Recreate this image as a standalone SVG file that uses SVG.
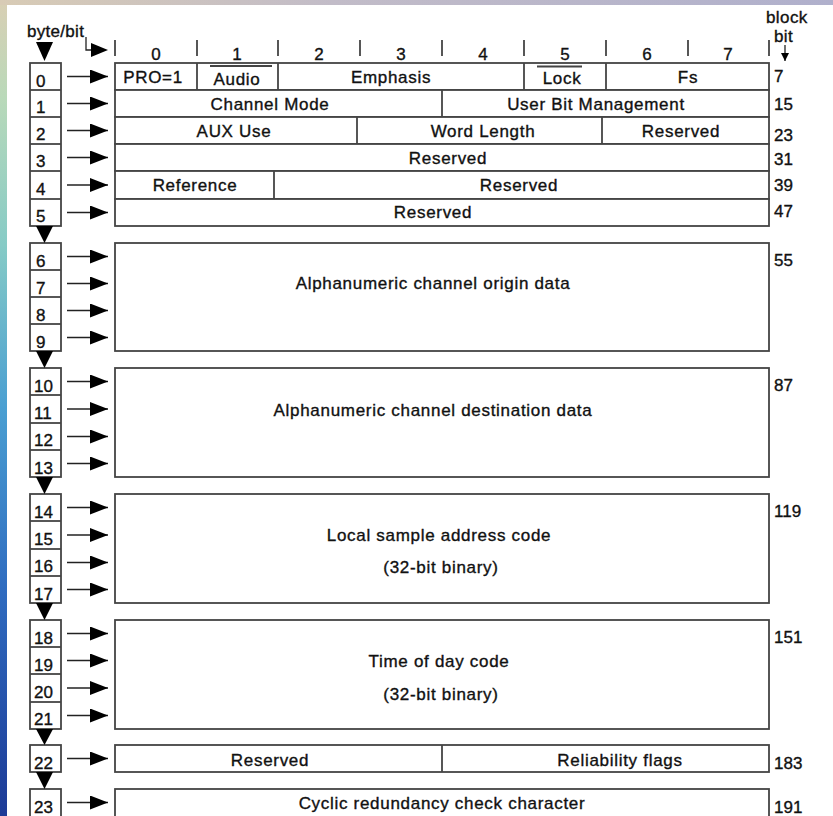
<svg xmlns="http://www.w3.org/2000/svg" width="833" height="816" viewBox="0 0 833 816">
<defs>
<linearGradient id="leftg" x1="0" y1="0" x2="0" y2="1">
<stop offset="0" stop-color="#d9cfb4"/>
<stop offset="0.12" stop-color="#b9d9b9"/>
<stop offset="0.3" stop-color="#86cbc6"/>
<stop offset="0.5" stop-color="#4a9fd2"/>
<stop offset="0.72" stop-color="#2f6cc0"/>
<stop offset="1" stop-color="#1d3a96"/>
</linearGradient>
<linearGradient id="topg" x1="0" y1="0" x2="1" y2="0">
<stop offset="0" stop-color="#d8cbb5"/>
<stop offset="0.4" stop-color="#c2bcc8"/>
<stop offset="1" stop-color="#b0b0cc"/>
</linearGradient>
<marker id="ah" viewBox="0 0 18 14" refX="18" refY="7" markerWidth="18" markerHeight="14" markerUnits="userSpaceOnUse" orient="auto">
<path d="M0,0 L18,7 L0,14 Z" fill="#000"/>
</marker>
<marker id="ahs" viewBox="0 0 8 8" refX="8" refY="4" markerWidth="8" markerHeight="8" markerUnits="userSpaceOnUse" orient="auto">
<path d="M0,0 L8,4 L0,8 Z" fill="#000"/>
</marker>
</defs>
<style>
.t{font-family:"Liberation Sans",Arial,sans-serif;font-size:17px;fill:#111;stroke:#111;stroke-width:0.35px;letter-spacing:0.7px;text-anchor:middle}
.n{font-family:"Liberation Sans",Arial,sans-serif;font-size:17px;fill:#111;stroke:#111;stroke-width:0.35px}
.c{text-anchor:middle}
.box{fill:#fff;stroke:#444;stroke-width:1.8}
.ln{stroke:#444;stroke-width:1.8;fill:none}
.ar{stroke:#222;stroke-width:1.6;fill:none;marker-end:url(#ah)}
.tri{fill:#000}
</style>
<rect x="0" y="0" width="833" height="816" fill="url(#leftg)"/>
<rect x="0" y="0" width="833" height="5" fill="url(#topg)"/>
<rect x="7" y="5" width="826" height="811" fill="#fff"/>

<g id="header">
<text class="n" x="27" y="37" letter-spacing="0.3">byte/bit</text>
<polygon class="tri" points="36,42 53,42 44.5,61"/>
<path d="M86,37 V50 H92" stroke="#222" stroke-width="1.3" fill="none"/>
<polygon class="tri" points="91,43 108,50 91,57"/>
<g class="ln">
<line x1="115" y1="40" x2="115" y2="56"/>
<line x1="197" y1="40" x2="197" y2="56"/>
<line x1="278" y1="40" x2="278" y2="56"/>
<line x1="360" y1="40" x2="360" y2="56"/>
<line x1="442" y1="40" x2="442" y2="56"/>
<line x1="524" y1="40" x2="524" y2="56"/>
<line x1="606" y1="40" x2="606" y2="56"/>
<line x1="688" y1="40" x2="688" y2="56"/>
<line x1="769" y1="40" x2="769" y2="56"/>
</g>
<text class="n c" x="156" y="60">0</text>
<text class="n c" x="237" y="60">1</text>
<text class="n c" x="319" y="60">2</text>
<text class="n c" x="401" y="60">3</text>
<text class="n c" x="483" y="60">4</text>
<text class="n c" x="565" y="60">5</text>
<text class="n c" x="647" y="60">6</text>
<text class="n c" x="728" y="60">7</text>
<text class="n" x="766" y="23" font-size="16.5" letter-spacing="0.4">block</text>
<text class="n" x="774" y="42" font-size="16.5" letter-spacing="0.4">bit</text>
<line x1="785" y1="45" x2="785" y2="61" stroke="#222" stroke-width="1.3" marker-end="url(#ahs)"/>
</g>

<g id="byte-column">
<g id="bytes-0-5">
<rect class="box" x="30" y="63" width="31" height="163"/>
<g class="ln"><line x1="30" y1="90" x2="61" y2="90"/><line x1="30" y1="117" x2="61" y2="117"/><line x1="30" y1="144" x2="61" y2="144"/><line x1="30" y1="171" x2="61" y2="171"/><line x1="30" y1="199" x2="61" y2="199"/></g>
<text class="n" x="36" y="87">0</text><text class="n" x="36" y="113">1</text><text class="n" x="36" y="140">2</text><text class="n" x="36" y="167">3</text><text class="n" x="36" y="195">4</text><text class="n" x="36" y="222">5</text>
</g>
<g id="bytes-6-9">
<rect class="box" x="30" y="243" width="31" height="108"/>
<g class="ln"><line x1="30" y1="270" x2="61" y2="270"/><line x1="30" y1="297" x2="61" y2="297"/><line x1="30" y1="324" x2="61" y2="324"/></g>
<text class="n" x="36" y="267">6</text><text class="n" x="36" y="294">7</text><text class="n" x="36" y="321">8</text><text class="n" x="36" y="348">9</text>
</g>
<g id="bytes-10-13">
<rect class="box" x="30" y="368" width="31" height="109"/>
<g class="ln"><line x1="30" y1="395" x2="61" y2="395"/><line x1="30" y1="423" x2="61" y2="423"/><line x1="30" y1="450" x2="61" y2="450"/></g>
<text class="n" x="34" y="392">10</text><text class="n" x="34" y="419">11</text><text class="n" x="34" y="446">12</text><text class="n" x="34" y="474">13</text>
</g>
<g id="bytes-14-17">
<rect class="box" x="30" y="494" width="31" height="109"/>
<g class="ln"><line x1="30" y1="521" x2="61" y2="521"/><line x1="30" y1="549" x2="61" y2="549"/><line x1="30" y1="576" x2="61" y2="576"/></g>
<text class="n" x="34" y="518">14</text><text class="n" x="34" y="545">15</text><text class="n" x="34" y="572">16</text><text class="n" x="34" y="600">17</text>
</g>
<g id="bytes-18-21">
<rect class="box" x="30" y="620" width="31" height="109"/>
<g class="ln"><line x1="30" y1="647" x2="61" y2="647"/><line x1="30" y1="674" x2="61" y2="674"/><line x1="30" y1="702" x2="61" y2="702"/></g>
<text class="n" x="34" y="644">18</text><text class="n" x="34" y="671">19</text><text class="n" x="34" y="698">20</text><text class="n" x="34" y="725">21</text>
</g>
<g id="byte-22">
<rect class="box" x="30" y="745" width="31" height="27"/>
<text class="n" x="34" y="769">22</text>
</g>
<g id="byte-23">
<rect class="box" x="30" y="789" width="31" height="30"/>
<text class="n" x="34" y="813">23</text>
</g>
<polygon class="tri" points="36,226 53,226 44.5,243"/>
<polygon class="tri" points="36,351 53,351 44.5,368"/>
<polygon class="tri" points="36,477 53,477 44.5,494"/>
<polygon class="tri" points="36,603 53,603 44.5,620"/>
<polygon class="tri" points="36,729 53,729 44.5,745"/>
<polygon class="tri" points="36,772 53,772 44.5,789"/>
</g>

<g id="connectors">
<line class="ar" x1="67" y1="76.5" x2="108" y2="76.5"/>
<line class="ar" x1="67" y1="103.5" x2="108" y2="103.5"/>
<line class="ar" x1="67" y1="130.5" x2="108" y2="130.5"/>
<line class="ar" x1="67" y1="157.5" x2="108" y2="157.5"/>
<line class="ar" x1="67" y1="185" x2="108" y2="185"/>
<line class="ar" x1="67" y1="212.5" x2="108" y2="212.5"/>
<line class="ar" x1="67" y1="256.5" x2="108" y2="256.5"/>
<line class="ar" x1="67" y1="283.5" x2="108" y2="283.5"/>
<line class="ar" x1="67" y1="310.5" x2="108" y2="310.5"/>
<line class="ar" x1="67" y1="337.5" x2="108" y2="337.5"/>
<line class="ar" x1="67" y1="381.5" x2="108" y2="381.5"/>
<line class="ar" x1="67" y1="409" x2="108" y2="409"/>
<line class="ar" x1="67" y1="436.5" x2="108" y2="436.5"/>
<line class="ar" x1="67" y1="463.5" x2="108" y2="463.5"/>
<line class="ar" x1="67" y1="507.5" x2="108" y2="507.5"/>
<line class="ar" x1="67" y1="535" x2="108" y2="535"/>
<line class="ar" x1="67" y1="562.5" x2="108" y2="562.5"/>
<line class="ar" x1="67" y1="589.5" x2="108" y2="589.5"/>
<line class="ar" x1="67" y1="633.5" x2="108" y2="633.5"/>
<line class="ar" x1="67" y1="660.5" x2="108" y2="660.5"/>
<line class="ar" x1="67" y1="688" x2="108" y2="688"/>
<line class="ar" x1="67" y1="715.5" x2="108" y2="715.5"/>
<line class="ar" x1="67" y1="758.5" x2="108" y2="758.5"/>
<line class="ar" x1="67" y1="802.5" x2="108" y2="802.5"/>
</g>

<g id="row-0">
<rect class="box" x="115" y="63" width="654" height="27"/>
<g class="ln"><line x1="197" y1="63" x2="197" y2="90"/><line x1="278" y1="63" x2="278" y2="90"/><line x1="524" y1="63" x2="524" y2="90"/><line x1="606" y1="63" x2="606" y2="90"/></g>
<text class="t" x="153" y="83">PRO=1</text>
<line class="ln" x1="210" y1="66" x2="272" y2="66"/>
<text class="t" x="237" y="84.5">Audio</text>
<text class="t" x="391" y="83">Emphasis</text>
<line class="ln" x1="537" y1="66.5" x2="582" y2="66.5"/>
<text class="t" x="562" y="83.5">Lock</text>
<text class="t" x="688" y="83">Fs</text>
<text class="n" x="774" y="82">7</text>
</g>
<g id="row-1">
<rect class="box" x="115" y="90" width="654" height="27"/>
<line class="ln" x1="442" y1="90" x2="442" y2="117"/>
<text class="t" x="270" y="110">Channel Mode</text>
<text class="t" x="596" y="110">User Bit Management</text>
<text class="n" x="774" y="110">15</text>
</g>
<g id="row-2">
<rect class="box" x="115" y="117" width="654" height="27"/>
<line class="ln" x1="357" y1="117" x2="357" y2="144"/>
<line class="ln" x1="602" y1="117" x2="602" y2="144"/>
<text class="t" x="234" y="137">AUX Use</text>
<text class="t" x="483" y="137">Word Length</text>
<text class="t" x="681" y="137">Reserved</text>
<text class="n" x="774" y="141">23</text>
</g>
<g id="row-3">
<rect class="box" x="115" y="144" width="654" height="27"/>
<text class="t" x="448" y="164">Reserved</text>
<text class="n" x="774" y="165">31</text>
</g>
<g id="row-4">
<rect class="box" x="115" y="171" width="654" height="28"/>
<line class="ln" x1="274" y1="171" x2="274" y2="199"/>
<text class="t" x="195" y="191">Reference</text>
<text class="t" x="519" y="191">Reserved</text>
<text class="n" x="774" y="191">39</text>
</g>
<g id="row-5">
<rect class="box" x="115" y="199" width="654" height="27"/>
<text class="t" x="433" y="218">Reserved</text>
<text class="n" x="774" y="217">47</text>
</g>
<g id="block-origin">
<rect class="box" x="115" y="243" width="654" height="108"/>
<text class="t" x="433" y="289">Alphanumeric channel origin data</text>
<text class="n" x="774" y="266">55</text>
</g>
<g id="block-destination">
<rect class="box" x="115" y="368" width="654" height="109"/>
<text class="t" x="433" y="416">Alphanumeric channel destination data</text>
<text class="n" x="774" y="391">87</text>
</g>
<g id="block-address">
<rect class="box" x="115" y="494" width="654" height="109"/>
<text class="t" x="439" y="541">Local sample address code</text>
<text class="t" x="441" y="573">(32-bit binary)</text>
<text class="n" x="774" y="517">119</text>
</g>
<g id="block-time">
<rect class="box" x="115" y="620" width="654" height="109"/>
<text class="t" x="439" y="667">Time of day code</text>
<text class="t" x="441" y="700">(32-bit binary)</text>
<text class="n" x="774" y="643">151</text>
</g>
<g id="row-22">
<rect class="box" x="115" y="745" width="654" height="27"/>
<line class="ln" x1="442" y1="745" x2="442" y2="772"/>
<text class="t" x="270" y="766">Reserved</text>
<text class="t" x="620" y="766">Reliability flags</text>
<text class="n" x="774" y="769">183</text>
</g>
<g id="row-23">
<rect class="box" x="115" y="789" width="654" height="30"/>
<text class="t" x="442" y="809">Cyclic redundancy check character</text>
<text class="n" x="774" y="813">191</text>
</g>
</svg>
